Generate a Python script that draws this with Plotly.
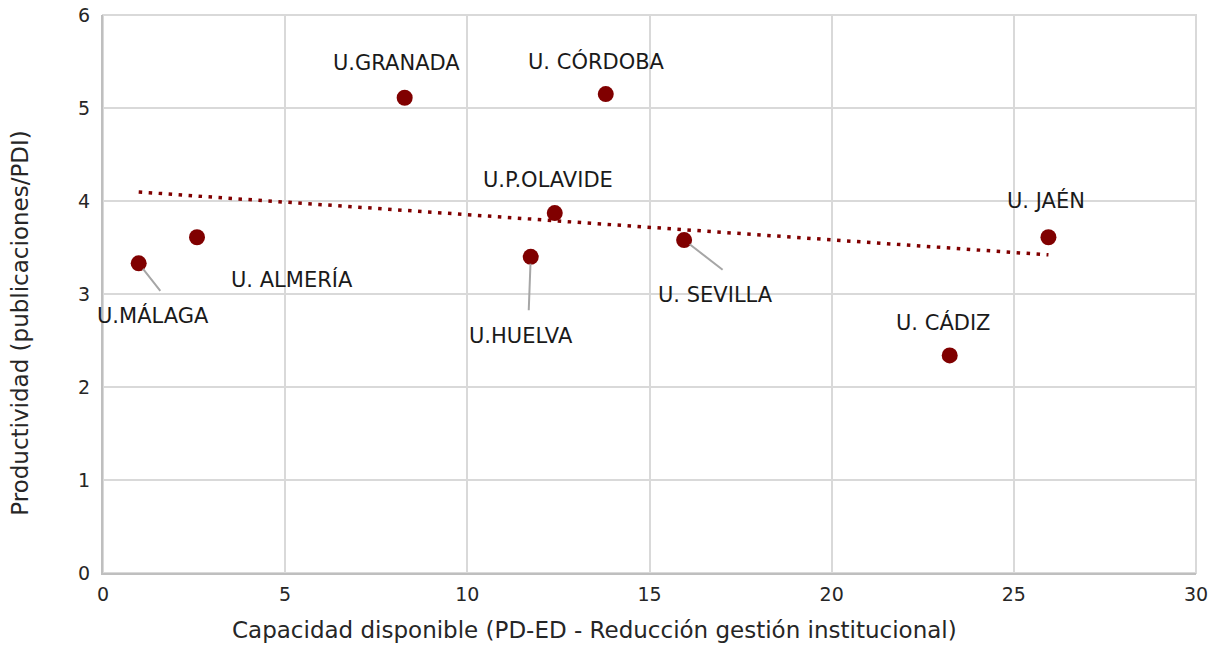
import numpy as np
import plotly.graph_objects as go

# ---- data ----
universidades = ["U.MÁLAGA", "U. ALMERÍA", "U.GRANADA", "U. CÓRDOBA", "U.P.OLAVIDE",
                 "U.HUELVA", "U. SEVILLA", "U. CÁDIZ", "U. JAÉN"]
capacidad = [0.98, 2.58, 8.28, 13.80, 12.40, 11.74, 15.95, 23.24, 25.95]
productividad = [3.33, 3.61, 5.11, 5.15, 3.87, 3.40, 3.58, 2.34, 3.61]

x_ticks = [0, 5, 10, 15, 20, 25, 30]
y_ticks = [0, 1, 2, 3, 4, 5, 6]

x_title = "Capacidad disponible (PD-ED - Reducción gestión institucional)"
y_title = "Productividad (publicaciones/PDI)"

# ---- label placement (pixel offsets of label centre from its point) ----
label_shift = {
    "U.MÁLAGA": (14, -52),
    "U. ALMERÍA": (95, -42),
    "U.GRANADA": (-8, 35),
    "U. CÓRDOBA": (-9, 33),
    "U.P.OLAVIDE": (-7, 33),
    "U.HUELVA": (-10, -79),
    "U. SEVILLA": (31, -55),
    "U. CÁDIZ": (-6, 33),
    "U. JAÉN": (-2, 37),
}
# leader lines (tail offset in pixels, screen coords: +x right, +y down)
leaders = {
    "U.MÁLAGA": (22, 28),
    "U.HUELVA": (-2, 54),
    "U. SEVILLA": (39, 30),
}

MAROON = "#800000"
FONT = "DejaVu Sans"

fig = go.Figure()

fig.add_trace(go.Scatter(
    x=capacidad, y=productividad, mode="markers",
    marker=dict(size=16, color=MAROON, line=dict(width=0)),
    hoverinfo="x+y+text", text=universidades, showlegend=False,
))

# linear trendline computed from the data
slope, intercept = np.polyfit(capacidad, productividad, 1)
tx = np.array([min(capacidad), max(capacidad)])
fig.add_trace(go.Scatter(
    x=tx, y=slope * tx + intercept, mode="lines",
    line=dict(color=MAROON, width=3.5, dash="3.5px,6.5px"),
    hoverinfo="skip", showlegend=False,
))

annotations = []
for name, xv, yv in zip(universidades, capacidad, productividad):
    dx, dy = label_shift[name]
    annotations.append(dict(
        x=xv, y=yv, xref="x", yref="y", text=name, showarrow=False,
        xshift=dx, yshift=dy, xanchor="center", yanchor="middle",
        font=dict(family=FONT, size=21, color="#1a1a1a"),
    ))
    if name in leaders:
        ax, ay = leaders[name]
        annotations.append(dict(
            x=xv, y=yv, xref="x", yref="y", text="", showarrow=True,
            ax=ax, ay=ay, arrowhead=0, arrowwidth=2, arrowcolor="#a6a6a6",
            standoff=7, borderpad=0, font=dict(size=1),
        ))

annotations.append(dict(
    x=0.45, y=0, xref="paper", yref="paper", yshift=-57, text=x_title,
    showarrow=False, xanchor="center", yanchor="middle",
    font=dict(family=FONT, size=23, color="#262626"),
))
annotations.append(dict(
    x=0, y=0.4485, xref="paper", yref="paper", xshift=-83, text=y_title,
    showarrow=False, xanchor="center", yanchor="middle", textangle=-90,
    font=dict(family=FONT, size=23, color="#262626"),
))

fig.update_layout(
    width=1216, height=645,
    margin=dict(l=103, r=20, t=15, b=72, autoexpand=False),
    paper_bgcolor="white", plot_bgcolor="white",
    font=dict(family=FONT, size=19, color="#262626"),
    annotations=annotations,
    shapes=[dict(type="rect", xref="paper", yref="paper", x0=0, x1=1, y0=0, y1=1,
                 line=dict(color="#d9d9d9", width=2), layer="below")],
    xaxis=dict(
        range=[0, 30], tickvals=x_ticks, showgrid=True, gridcolor="#d9d9d9",
        gridwidth=2, zeroline=False, showline=True, linecolor="#bfbfbf",
        linewidth=2, ticks="", ticklabelstandoff=3, automargin=False,
        tickfont=dict(family=FONT, size=19, color="#262626"),
    ),
    yaxis=dict(
        range=[0, 6], tickvals=y_ticks, showgrid=True, gridcolor="#d9d9d9",
        gridwidth=2, zeroline=False, showline=True, linecolor="#bfbfbf",
        linewidth=2, ticks="", ticklabelstandoff=7, automargin=False,
        tickfont=dict(family=FONT, size=19, color="#262626"),
    ),
)

fig.write_html(
    "out.html",
    config={"displayModeBar": False},
    post_script="document.body.style.margin='0';document.body.style.padding='0';",
)
